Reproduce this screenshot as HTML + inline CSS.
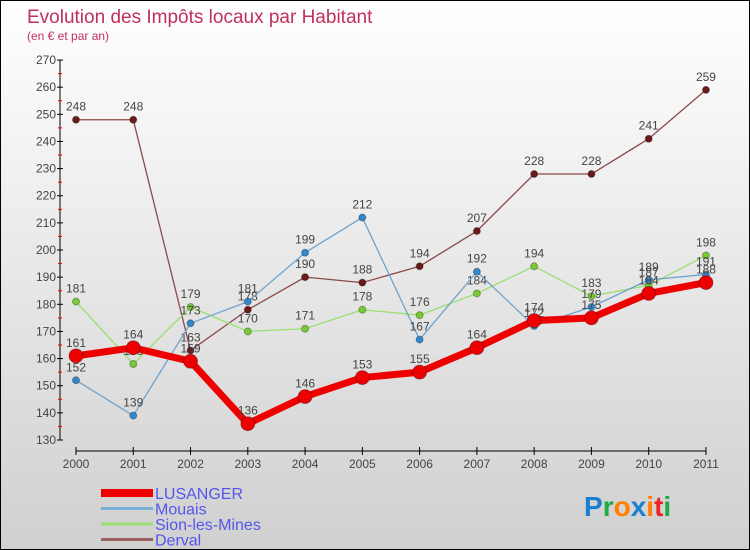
<!DOCTYPE html>
<html><head><meta charset="utf-8"><style>
html,body{margin:0;padding:0}
body{width:750px;height:550px;overflow:hidden;font-family:"Liberation Sans",sans-serif}
#wrap{position:relative;width:748px;height:548px;border:1px solid #000;background:linear-gradient(#fff,#d0d0d0)}
</style></head><body>
<div id="wrap">
<svg id="chart" width="748" height="548" style="position:absolute;left:0;top:0"></svg>
</div>
<script>
const years=["2000","2001","2002","2003","2004","2005","2006","2007","2008","2009","2010","2011"];
const lusanger=[161,164,159,136,146,153,155,164,174,175,184,188];
const mouais=[152,139,173,181,199,212,167,192,172,179,189,191];
const sion=[181,158,179,170,171,178,176,184,194,183,187,198];
const derval=[248,248,163,178,190,188,194,207,228,228,241,259];
const yTicks=[130,140,150,160,170,180,190,200,210,220,230,240,250,260,270];
const NS="http://www.w3.org/2000/svg";
const svg=document.getElementById('chart');
function X(i){return 75+i*57.27;}
function Y(v){return 439-(v-130)*2.714;}
function el(t,a,p){const e=document.createElementNS(NS,t);for(const k in a)e.setAttribute(k,a[k]);(p||svg).appendChild(e);return e;}
let t;
t=el('text',{x:26,y:22,'font-size':19,fill:'#c0305a'});t.textContent='Evolution des Impôts locaux par Habitant';


t=el('text',{x:26,y:39,'font-size':12,fill:'#c0305a'});t.textContent='(en € et par an)';


// y axis
const ya=el('g',{});


el('line',{x1:59,y1:Y(270),x2:59,y2:Y(130),stroke:'#000'},ya);
yTicks.forEach((v,k)=>{
 el('line',{x1:56,y1:Y(v),x2:62,y2:Y(v),stroke:'#000'},ya);
 if(k<yTicks.length-1) el('line',{x1:57,y1:Y(v+5),x2:61,y2:Y(v+5),stroke:'#e00'},ya);
 const tx=el('text',{x:55,y:Y(v)+4,'font-size':12,fill:'#444','text-anchor':'end'},ya);tx.textContent=v;
 
 
});
// x axis
const xa=el('g',{});


el('line',{x1:X(0),y1:450,x2:X(11),y2:450,stroke:'#000'},xa);
years.forEach((y,i)=>{
 el('line',{x1:X(i),y1:446,x2:X(i),y2:454,stroke:'#000'},xa);
 const tx=el('text',{x:X(i),y:467,'font-size':12,fill:'#444','text-anchor':'middle'},xa);tx.textContent=y;
 
 
});
function series(name,data,color,w,r,dot){
 const g=el('g',{});
 
 
 el('polyline',{points:data.map((v,i)=>X(i)+','+Y(v)).join(' '),fill:'none',stroke:color,'stroke-width':w,'stroke-linejoin':'round'},g);
 data.forEach((v,i)=>{
  const c=el('circle',{cx:X(i),cy:Y(v),r:r,fill:dot,stroke:'rgba(0,0,0,0.3)','stroke-width':1},g);
  
  
  const tx=el('text',{x:X(i),y:Y(v)-9,'font-size':12,fill:'#444','text-anchor':'middle'},g);tx.textContent=v;
  
  
 });
}
series('derval',derval,'#8a4a4a',1.3,3.5,'#6b1a1a');
series('sion',sion,'#99e070',1.3,3.5,'#77cc33');
series('mouais',mouais,'#6ea3cf',1.3,3.5,'#3388cc');
series('lusanger',lusanger,'#ee0000',7,7,'#ee0000');
// legend
const lg=el('g',{});


const items=[['LUSANGER','#ee0000',8],['Mouais','#7ab0d8',3],['Sion-les-Mines','#99e070',3],['Derval','#9a6060',3]];
items.forEach((it,k)=>{
 const y=492+k*15.5;
 el('rect',{x:100,y:y-it[2]/2,width:52,height:it[2],fill:it[1]},lg);
 const tx=el('text',{x:154,y:y+6,'font-size':16,fill:'#5555ee'},lg);tx.textContent=it[0];
 
 
});
// logo
const lo=el('text',{x:583,y:515,'font-size':28,'font-weight':'bold'});


[['P','#1a7fd0'],['r','#22aa44'],['o','#ff7f00'],['x','#1a7fd0'],['i','#ff7f00'],['t','#ee2222'],['i','#22aa44']].forEach(c=>{const s=el('tspan',{fill:c[1]},lo);s.textContent=c[0];});
</script>
</body></html>
